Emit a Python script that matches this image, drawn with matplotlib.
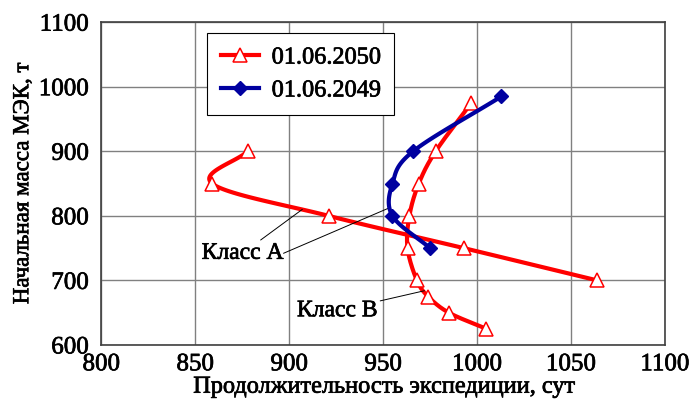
import numpy as np
import matplotlib.pyplot as plt
import matplotlib.patheffects as pe

plt.rcParams['font.family'] = ['Liberation Serif', 'DejaVu Serif']

# 01.06.2050, class A branch
a_days = [878, 859, 921, 993, 1064]
a_mass = [900, 850, 800, 750, 700]
# 01.06.2050, class B branch
b_days = [997, 978, 969, 964, 963, 968, 974, 985, 1005]
b_mass = [975, 900, 850, 800, 750, 700, 675, 650, 625]
# 01.06.2049
c_days = [1013, 966, 955, 955, 975]
c_mass = [985, 900, 850, 800, 750]


def smooth(x, y, n=30):
    # Catmull-Rom curve through the points (like Excel smoothed lines)
    p = np.column_stack([x, y]).astype(float)
    p = np.vstack([p[0] * 2 - p[1], p, p[-1] * 2 - p[-2]])
    out = []
    for i in range(1, len(p) - 2):
        p0, p1, p2, p3 = p[i - 1], p[i], p[i + 1], p[i + 2]
        t = np.linspace(0, 1, n)[:, None]
        seg = 0.5 * (2 * p1 + (-p0 + p2) * t + (2 * p0 - 5 * p1 + 4 * p2 - p3) * t ** 2
                     + (-p0 + 3 * p1 - 3 * p2 + p3) * t ** 3)
        out.append(seg)
    s = np.vstack(out)
    return s[:, 0], s[:, 1]


fig, ax = plt.subplots(figsize=(6.89, 4.03), dpi=100)
fig.subplots_adjust(left=0.147, right=0.965, top=0.945, bottom=0.144)

red = '#ff0000'
blue = '#0000a0'

for xs, ys in [(a_days, a_mass), (b_days, b_mass)]:
    sx, sy = smooth(xs, ys)
    ax.plot(sx, sy, color=red, lw=3.0, zorder=3, solid_capstyle='round')
    ax.plot(xs, ys, ls='none', marker='^', ms=10, mfc='white', mec=red, mew=1.1, zorder=4)

sx, sy = smooth(c_days, c_mass)
ax.plot(sx, sy, color=blue, lw=3.0, zorder=5)
ax.plot(c_days, c_mass, ls='none', marker='D', ms=7, color=blue, zorder=6)

# legend handles
h1, = ax.plot([], [], color=red, lw=3.0, marker='^', ms=10, mfc='white', mec=red, mew=1.1)
h2, = ax.plot([], [], color=blue, lw=3.0, marker='D', ms=7)
leg = ax.legend([h1, h2], ['01.06.2050', '01.06.2049'], loc='upper left',
                bbox_to_anchor=(0.188, 0.966), borderaxespad=0, fontsize=17.5,
                fancybox=False, framealpha=1, edgecolor='black', handlelength=1.6,
                handletextpad=0.5, borderpad=0.55, labelspacing=0.45)
leg.get_frame().set_linewidth(0.8)

# annotations
line = dict(arrowstyle='-', color='black', lw=0.7, shrinkA=0, shrinkB=0)
t1 = ax.annotate('Класс А', xy=(907, 810), xytext=(897, 742), fontsize=17,
                 ha='right', va='center', arrowprops=line)
ax.annotate('', xy=(953, 812), xytext=(897, 742), arrowprops=line)
t2 = ax.annotate('Класс В', xy=(972, 684), xytext=(947, 653), fontsize=17,
                 ha='right', va='center', arrowprops=line)

ax.set_xlim(800, 1100)
ax.set_ylim(600, 1100)
ax.set_xticks(range(800, 1101, 50))
ax.set_yticks(range(600, 1101, 100))
ax.tick_params(labelsize=18, length=0, pad=6)
ax.tick_params(axis='y', pad=9)
ax.grid(True, color='#808080', lw=1)
ax.set_axisbelow(True)
for s in ax.spines.values():
    s.set_color('#404040')
    s.set_linewidth(1.2)

ax.set_xlabel('Продолжительность экспедиции, сут', fontsize=17.5, labelpad=1)
ax.set_ylabel('Начальная масса МЭК, т', fontsize=16.5, labelpad=4)

# slightly heavier text, like the original rendering
heavy = [pe.withStroke(linewidth=0.5, foreground='black')]
texts = ax.get_xticklabels() + ax.get_yticklabels() + leg.get_texts()
texts += [ax.xaxis.label, ax.yaxis.label, t1, t2]
for t in texts:
    t.set_path_effects(heavy)

plt.savefig('out.png', dpi=100)
